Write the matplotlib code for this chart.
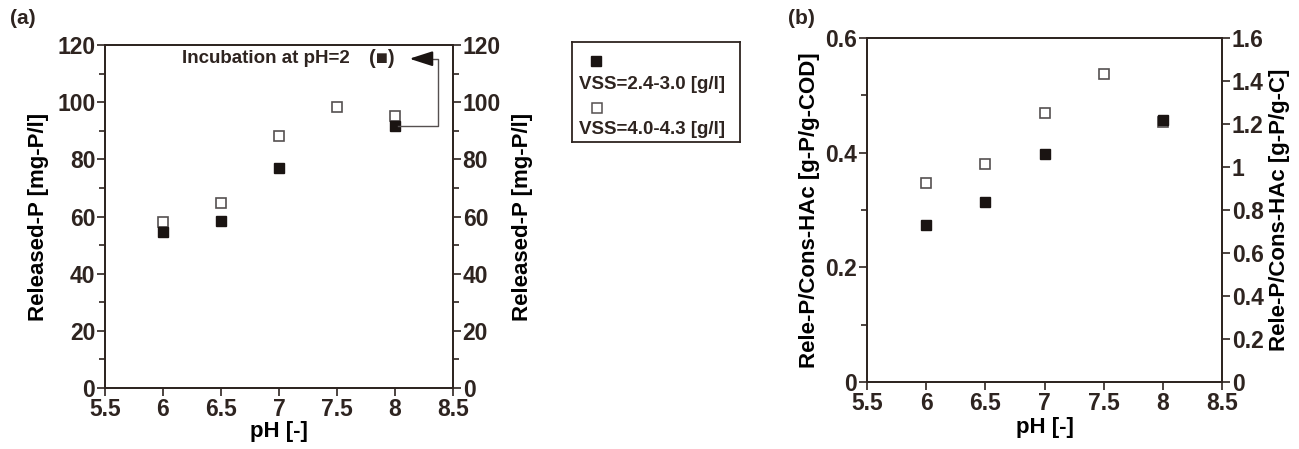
import numpy as np
import matplotlib.pyplot as plt
from matplotlib.ticker import MultipleLocator

# data
ph_low = [6.0, 6.5, 7.0, 8.0]            # VSS=2.4-3.0 (filled)
ph_high = [6.0, 6.5, 7.0, 7.5, 8.0]      # VSS=4.0-4.3 (open)
relP_low = [54.5, 58.5, 77.0, 91.5]
relP_high = [58.0, 64.8, 88.2, 98.2, 95.3]
ratio_low = [0.274, 0.314, 0.398, 0.457]
ratio_high = [0.347, 0.380, 0.469, 0.537, 0.453]

label_low = 'VSS=2.4-3.0 [g/l]'
label_high = 'VSS=4.0-4.3 [g/l]'

ink = '#2e2420'
plt.rcParams['font.family'] = ['Liberation Sans', 'DejaVu Sans']
plt.rcParams['font.weight'] = 'bold'
plt.rcParams['text.color'] = ink
plt.rcParams['axes.edgecolor'] = ink
plt.rcParams['xtick.color'] = ink
plt.rcParams['ytick.color'] = ink
plt.rcParams['axes.linewidth'] = 1.3

W, H = 1299, 449
fig = plt.figure(figsize=(W / 100, H / 100), dpi=100)


def box(x0, y0, x1, y1):
    return [x0 / W, 1 - y1 / H, (x1 - x0) / W, (y1 - y0) / H]


def style(ax, fs=16.5):
    ax.tick_params(axis='both', which='major', direction='out', length=6,
                   width=1.2, labelsize=fs, pad=1)
    ax.tick_params(axis='both', which='minor', direction='out', length=4,
                   width=1.2)
    for lab in ax.get_xticklabels() + ax.get_yticklabels():
        lab.set_fontweight('bold')


def scatter_pair(ax, xl, yl, xh, yh):
    ax.plot(xh, yh, 's', ms=7.5, mfc='white', mec='#555050', mew=1.2,
            linestyle='none')
    ax.plot(xl, yl, 's', ms=7.5, mfc='#1a1412', mec='#1a1412',
            linestyle='none')


# ---- panel (a)
axa = fig.add_axes(box(105, 45, 453, 388))
scatter_pair(axa, ph_low, relP_low, ph_high, relP_high)
axa.set_xlim(5.5, 8.5)
axa.set_ylim(0, 120)
axa.xaxis.set_major_locator(MultipleLocator(0.5))
axa.xaxis.set_major_formatter(plt.FuncFormatter(lambda v, p: f'{v:g}'))
axa.yaxis.set_major_locator(MultipleLocator(20))
axa.yaxis.set_minor_locator(MultipleLocator(10))
axa.set_xlabel('pH [-]', fontsize=16, fontweight='bold', labelpad=0)
axa.set_ylabel('Released-P [mg-P/l]', fontsize=16, fontweight='bold',
               labelpad=6)
style(axa)
axa2 = axa.twinx()
axa2.set_ylim(0, 120)
axa2.yaxis.set_major_locator(MultipleLocator(20))
axa2.yaxis.set_minor_locator(MultipleLocator(10))
axa2.set_ylabel('Released-P [mg-P/l]', fontsize=16, fontweight='bold',
                labelpad=8)
style(axa2)

# incubation annotation
axa.text(6.16, 115.2, 'Incubation at pH=2', fontsize=13.5,
         fontweight='bold', va='center', ha='left')
axa.text(7.78, 115.2, '(\u25a0)', fontsize=14.5,
         fontweight='bold', va='center', ha='left')
axa.plot([8.03, 8.37, 8.37, 8.25], [91.5, 91.5, 115.2, 115.2],
         color='#555050', lw=1.0)
axa.annotate('', xy=(8.1, 115.2), xytext=(8.3, 115.2),
             arrowprops=dict(arrowstyle='-|>,head_length=1.4,head_width=0.45',
                             color='#1a1412', lw=1.5))

# ---- legend box
axl = fig.add_axes(box(572, 42, 740, 142))
axl.set_xlim(0, 1)
axl.set_ylim(0, 1)
axl.set_xticks([])
axl.set_yticks([])
axl.plot([0.14], [0.81], 's', ms=6.5, mfc='#1a1412', mec='#1a1412')
axl.plot([0.15], [0.34], 's', ms=6.5, mfc='white', mec='#555050', mew=1.1)
axl.text(0.04, 0.57, label_low, fontsize=13.5, fontweight='bold',
         va='center')
axl.text(0.04, 0.12, label_high, fontsize=13.5, fontweight='bold',
         va='center')

# ---- panel (b)
axb = fig.add_axes(box(867, 38, 1222, 382))
scatter_pair(axb, ph_low, ratio_low, ph_high, ratio_high)
axb.set_xlim(5.5, 8.5)
axb.set_ylim(0, 0.6)
axb.xaxis.set_major_locator(MultipleLocator(0.5))
axb.xaxis.set_major_formatter(plt.FuncFormatter(lambda v, p: f'{v:g}'))
axb.yaxis.set_major_locator(MultipleLocator(0.2))
axb.yaxis.set_minor_locator(MultipleLocator(0.1))
axb.yaxis.set_major_formatter(plt.FuncFormatter(lambda v, p: f'{v:g}'))
axb.set_xlabel('pH [-]', fontsize=16, fontweight='bold', labelpad=2)
axb.set_ylabel('Rele-P/Cons-HAc [g-P/g-COD]', fontsize=16, fontweight='bold',
               labelpad=4)
style(axb)
axb2 = axb.twinx()
axb2.set_ylim(0, 1.6)
axb2.yaxis.set_major_locator(MultipleLocator(0.2))
axb2.yaxis.set_major_formatter(plt.FuncFormatter(lambda v, p: f'{v:g}'))
axb2.set_ylabel('Rele-P/Cons-HAc [g-P/g-C]', fontsize=16, fontweight='bold',
                labelpad=4)
style(axb2)

fig.text(10 / W, 1 - 18 / H, '(a)', fontsize=15, fontweight='bold',
         va='center')
fig.text(788 / W, 1 - 18 / H, '(b)', fontsize=15, fontweight='bold',
         va='center')

fig.savefig('out.png', dpi=100)
